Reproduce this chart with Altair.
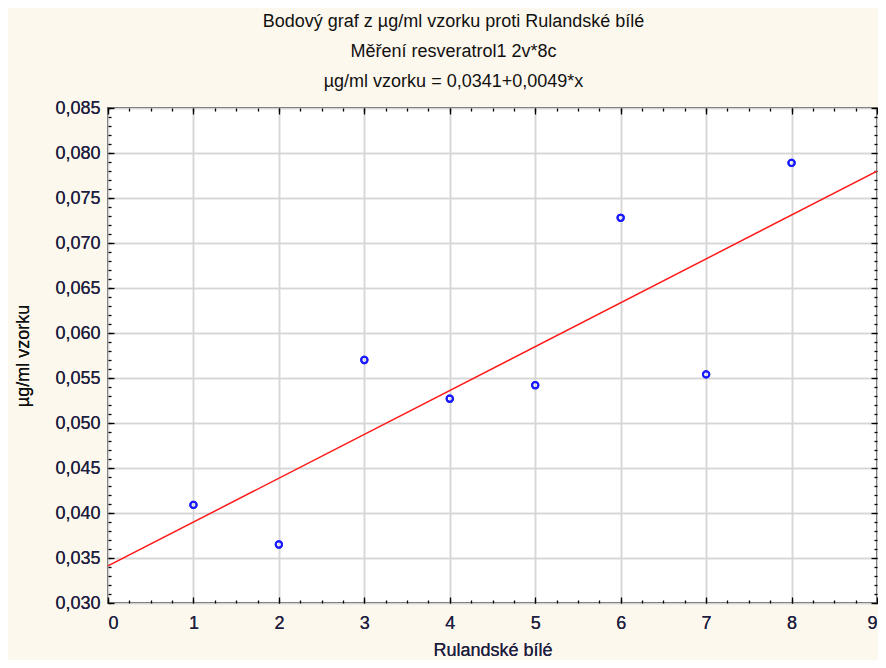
import altair as alt
import pandas as pd

# ---- data ----
x_vals = [1, 2, 3, 4, 5, 6, 7, 8]
y_vals = [0.0409, 0.0365, 0.0570, 0.0527, 0.0542, 0.0728, 0.0554, 0.0789]

x_major = [0, 1, 2, 3, 4, 5, 6, 7, 8, 9]
x_minor = [i / 4 for i in range(0, 37)]
y_major = [0.030, 0.035, 0.040, 0.045, 0.050, 0.055, 0.060, 0.065, 0.070, 0.075, 0.080, 0.085]
y_minor = [round(0.030 + i / 1000, 3) for i in range(0, 56)]

title_lines = [
    "Bodový graf z µg/ml vzorku proti Rulandské bílé",
    "Měření resveratrol1 2v*8c",
    "µg/ml vzorku = 0,0341+0,0049*x",
]
x_title = "Rulandské bílé"
y_title = "µg/ml vzorku"

df = pd.DataFrame({"x": x_vals, "y": y_vals})

W, H = 769, 495
FONT = "Liberation Sans"
LABEL_COLOR = "#1e1e40"
GRID = "#d6d6d6"

xscale = alt.Scale(domain=[0, 9], nice=False, zero=False)
yscale = alt.Scale(domain=[0.030, 0.085], nice=False, zero=False)

base = alt.Chart(df)


def tick_axis(orient, offset, values, size):
    return alt.Axis(
        orient=orient, offset=offset, values=values, labels=False, grid=False,
        domain=False, ticks=True, tickSize=size, tickColor="black", tickWidth=1.3,
        title=None,
    )


x_main = alt.Axis(
    orient="bottom", values=x_major, grid=True, gridColor=GRID, gridWidth=1.5,
    ticks=False, domain=False, format="d",
    labelFont=FONT, labelFontSize=18, labelColor=LABEL_COLOR, labelPadding=11,
    title=x_title, titleFont=FONT, titleFontSize=18, titleFontWeight="normal",
    titleColor=LABEL_COLOR, titlePadding=9,
)
y_main = alt.Axis(
    orient="left", values=y_major, grid=True, gridColor=GRID, gridWidth=1.5,
    ticks=False, domain=False,
    labelExpr="replace(format(datum.value, '.3f'), '.', ',')",
    labelFont=FONT, labelFontSize=18, labelColor=LABEL_COLOR, labelPadding=8,
    title=y_title, titleFont=FONT, titleFontSize=18, titleFontWeight="normal",
    titleColor="#111111", titlePadding=22,
)

points = base.mark_point(
    shape="circle", filled=False, color="#1a1aff", size=40, strokeWidth=2, opacity=1
).encode(
    x=alt.X("x:Q", scale=xscale, axis=x_main),
    y=alt.Y("y:Q", scale=yscale, axis=y_main),
)


def tick_layer(xa, ya):
    return base.mark_point(opacity=0).encode(
        x=alt.X("x:Q", scale=xscale, axis=xa),
        y=alt.Y("y:Q", scale=yscale, axis=ya),
    )


ticks_bl_major = tick_layer(tick_axis("top", -H, x_major, 6), tick_axis("right", -W, y_major, 6))
ticks_bl_minor = tick_layer(tick_axis("top", -H, x_minor, 3), tick_axis("right", -W, y_minor, 3))
ticks_tr_major = tick_layer(tick_axis("bottom", -H, x_major, 6), tick_axis("left", -W, y_major, 6))
ticks_tr_minor = tick_layer(tick_axis("bottom", -H, x_minor, 3), tick_axis("left", -W, y_minor, 3))

reg = base.transform_regression("x", "y", extent=[0, 9]).mark_line(
    color="#ff1a1a", strokeWidth=1.5, clip=True
).encode(
    x=alt.X("x:Q", scale=xscale, axis=None),
    y=alt.Y("y:Q", scale=yscale, axis=None),
)

chart = alt.layer(
    points, ticks_bl_major, ticks_bl_minor, ticks_tr_major, ticks_tr_minor, reg, points
).resolve_axis(
    x="independent", y="independent"
).properties(
    width=W, height=H,
    autosize=alt.AutoSizeParams(type="none"),
    padding={"left": 100, "top": 100, "right": 1, "bottom": 57},
    background="#fdf8ed",
    title=alt.TitleParams(
        text=title_lines, font=FONT, fontSize=18, fontWeight="normal",
        color="#111111", lineHeight=30, anchor="middle", frame="group",
        dx=-39, offset=8,
    ),
).configure_view(stroke="black", strokeWidth=1.5, fill="white")

chart.save("out.html", embed_options={"renderer": "svg", "actions": False})
